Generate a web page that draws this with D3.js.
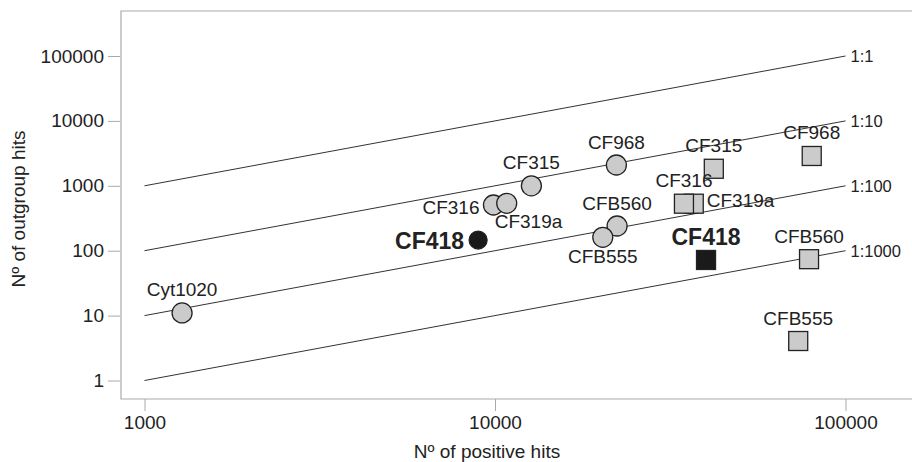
<!DOCTYPE html>
<html>
<head>
<meta charset="utf-8">
<script src="https://cdn.jsdelivr.net/npm/d3@7"></script>
<style>
  body { margin: 0; background: #fff; }
  svg { display: block; font-family: "Liberation Sans", Arial, Helvetica, sans-serif; }
  .axis text { font-size: 19px; fill: #222; }
  .axis line { stroke: #aaa; }
  .axis path { display: none; }
</style>
</head>
<body>
<div id="graph"></div>
<script>
// circles (first dataset)
var circleNames = ['Cyt1020', 'CF316', 'CF319a', 'CF315', 'CF968', 'CFB560', 'CFB555', 'CF418']
var circleX     = [1280, 9900, 10800, 12700, 22200, 22300, 20300, 8950]
var circleY     = [11, 506, 537, 1000, 2090, 240, 161, 146]
var circleLabel = ['top', 'left', 'belowright', 'top', 'top', 'top', 'below', 'left']

// squares (second dataset)
var squareNames = ['CF968', 'CF315', 'CF319a', 'CF316', 'CF418', 'CFB560', 'CFB555']
var squareX     = [80100, 42100, 36900, 34600, 40000, 78700, 73300]
var squareY     = [2880, 1830, 530, 530, 72, 74, 4.06]
var squareLabel = ['top', 'top', 'right', 'top', 'top', 'top', 'top']

var highlight = 'CF418'

var ratios = [1, 10, 100, 1000]
var ratioLabels = ['1:1', '1:10', '1:100', '1:1000']
var lineStart = 1000, lineEnd = 100000

var xTicks = [1000, 10000, 100000]
var yTicks = [1, 10, 100, 1000, 10000, 100000]

var width = 912, height = 462
var frame = {left: 121, top: 11, bottom: 399, right: 913}

var svg = d3.select('#graph').append('svg').attr('width', width).attr('height', height)

var x = d3.scaleLog().domain([1000, 100000]).range([144.5, 845.5])
var y = d3.scaleLog().domain([1, 100000]).range([380.5, 56])

// frame
svg.append('path')
  .attr('d', `M${frame.right},${frame.top}H${frame.left}V${frame.bottom}H${frame.right}`)
  .attr('fill', 'none').attr('stroke', '#aaa').attr('stroke-width', 1.2)

svg.append('g').attr('class', 'axis')
  .attr('transform', 'translate(120,0)')
  .call(d3.axisLeft(y).tickValues(yTicks).tickFormat(d3.format('d')).tickSize(12).tickPadding(4).tickSizeOuter(0))

svg.append('g').attr('class', 'axis')
  .attr('transform', `translate(0,${frame.bottom})`)
  .call(d3.axisBottom(x).tickValues(xTicks).tickFormat(d3.format('d')).tickSize(12).tickPadding(5).tickSizeOuter(0))

// axis titles
svg.append('text').text('Nº of positive hits')
  .attr('x', 487).attr('y', 458).attr('text-anchor', 'middle')
  .style('font-size', '19px').attr('fill', '#222')
svg.append('text').text('Nº of outgroup hits')
  .attr('transform', 'translate(25,209) rotate(-90)').attr('text-anchor', 'middle')
  .style('font-size', '19px').attr('fill', '#222')

// ratio lines
var ratioG = svg.selectAll('g.ratio').data(ratios).enter().append('g').attr('class', 'ratio')
ratioG.append('line')
  .attr('x1', x(lineStart)).attr('x2', x(lineEnd))
  .attr('y1', d => y(lineStart / d)).attr('y2', d => y(lineEnd / d))
  .attr('stroke', '#333').attr('stroke-width', 1)
ratioG.append('text')
  .text((d, i) => ratioLabels[i])
  .attr('x', x(lineEnd) + 5).attr('y', d => y(lineEnd / d) + 6)
  .style('font-size', '16.5px').attr('fill', '#222')

var offsets = {
  top:        {dx: 0,   dy: -16.5, anchor: 'middle'},
  left:       {dx: -14, dy: 9,     anchor: 'end'},
  right:      {dx: 13,  dy: 3,     anchor: 'start'},
  belowright: {dx: -12, dy: 25,    anchor: 'start'},
  below:      {dx: 0,   dy: 25.5,  anchor: 'middle'}
}

var circles = circleNames.map((name, i) => ({name, x: circleX[i], y: circleY[i], pos: circleLabel[i]}))
var squares = squareNames.map((name, i) => ({name, x: squareX[i], y: squareY[i], pos: squareLabel[i]}))
// draw CF319a square beneath CF316
squares.sort((a, b) => (a.name == 'CF316') - (b.name == 'CF316'))

var fillOf = d => d.name == highlight ? '#1a1a1a' : '#cbcbcb'

svg.selectAll('circle.pt').data(circles).enter().append('circle').attr('class', 'pt')
  .attr('cx', d => x(d.x)).attr('cy', d => y(d.y)).attr('r', d => d.name == highlight ? 9 : 10)
  .attr('fill', fillOf).attr('stroke', '#222').attr('stroke-width', 1.3)

var sq = 19
svg.selectAll('rect.pt').data(squares).enter().append('rect').attr('class', 'pt')
  .attr('x', d => x(d.x) - sq / 2).attr('y', d => y(d.y) - sq / 2)
  .attr('width', sq).attr('height', sq)
  .attr('fill', fillOf).attr('stroke', '#222').attr('stroke-width', 1.3)

svg.selectAll('text.lbl').data(circles.concat(squares)).enter().append('text').attr('class', 'lbl')
  .text(d => d.name)
  .attr('x', d => x(d.x) + offsets[d.pos].dx)
  .attr('y', d => y(d.y) + offsets[d.pos].dy + (d.name == highlight && d.pos == 'top' ? 1.5 : 0))
  .attr('text-anchor', d => offsets[d.pos].anchor)
  .style('font-size', d => d.name == highlight ? '23px' : '19px')
  .style('font-weight', d => d.name == highlight ? 'bold' : 'normal')
  .attr('fill', '#222')
</script>
</body>
</html>
